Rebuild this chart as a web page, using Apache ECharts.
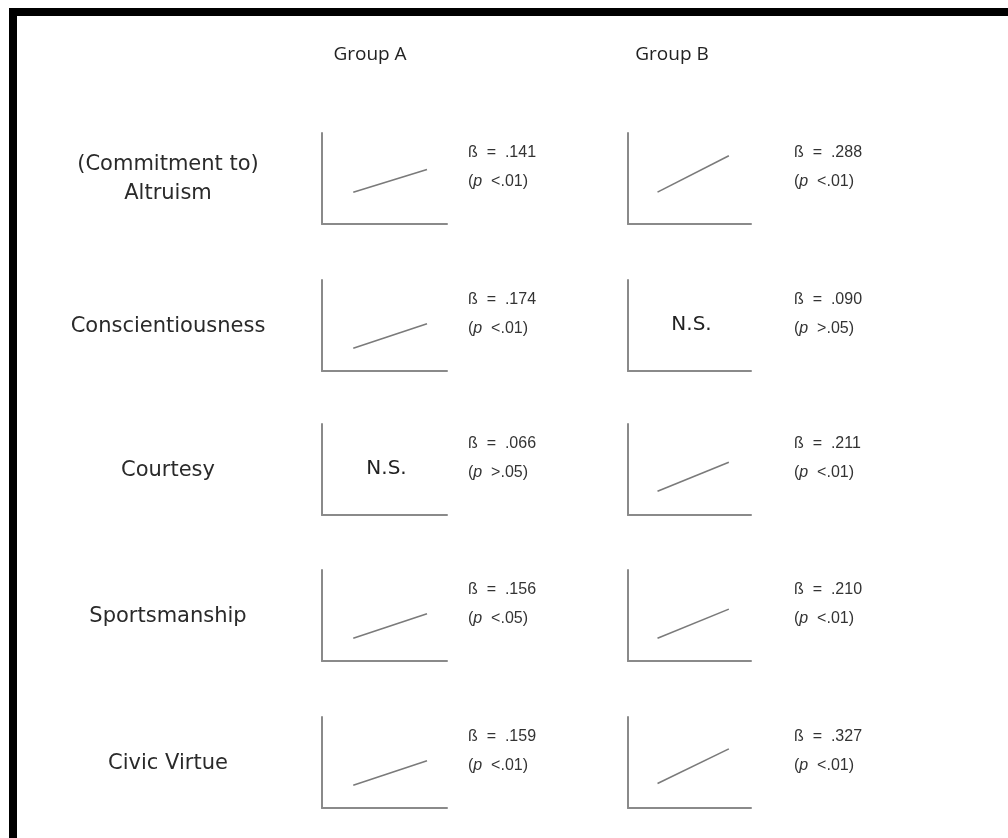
<!DOCTYPE html>
<html>
<head>
<meta charset="utf-8">
<script src="https://cdn.jsdelivr.net/npm/echarts@6/dist/echarts.min.js"></script>
<style>
  html, body { margin: 0; padding: 0; background: #fff; }
  #chart { width: 1008px; height: 838px; }
</style>
</head>
<body>
<div id="chart"></div>
<script>
// row labels
const categories = ['(Commitment to)\nAltruism', 'Conscientiousness', 'Courtesy', 'Sportsmanship', 'Civic Virtue']
const groups = ['Group A', 'Group B']

// beta and p for each group
const betaA = ['.141', '.174', '.066', '.156', '.159']
const pA = ['<.01', '<.01', '>.05', '<.05', '<.01']
const betaB = ['.288', '.090', '.211', '.210', '.327']
const pB = ['<.01', '>.05', '<.01', '<.01', '<.01']

// slope line endpoints (x from / to, y from / to), null = N.S.
const xA = [2.5, 8.4]
const xB = [2.4, 8.2]
const lineA = [[3.5, 6.0], [2.5, 5.2], null, [2.5, 5.2], [2.5, 5.2]]
const lineB = [[3.5, 7.5], null, [2.6, 5.8], [2.5, 5.7], [2.7, 6.5]]

const rowTop = [133, 280, 424, 570, 717]
const panelH = 91
const colLeft = [322, 628]
const colW = [125, 123]
const textX = [468, 794]
const titleX = [370, 672]
const grey = '#8a8a8a'
const font = '"DejaVu Sans", "Noto Sans", sans-serif'
const smallFont = '16px "Liberation Sans", Arial, sans-serif'

let myChart = echarts.init(document.getElementById('chart'))

const grid = [], xAxis = [], yAxis = [], series = [], graphic = []

const cols = [
  {beta: betaA, p: pA, line: lineA, x: xA},
  {beta: betaB, p: pB, line: lineB, x: xB}
]

categories.forEach((cat, r) => {
  // row label
  graphic.push({
    type: 'text', x: 168, y: rowTop[r] + panelH / 2 + 1,
    style: {text: cat, fill: '#2a2a2a', font: '21px ' + font, align: 'center', verticalAlign: 'middle', lineHeight: 29}
  })
  cols.forEach((c, g) => {
    const idx = grid.length
    grid.push({left: colLeft[g], top: rowTop[r], width: colW[g], height: panelH})
    const axisCommon = {
      type: 'value', min: 0, max: 10, gridIndex: idx,
      axisLine: {show: true, lineStyle: {color: grey, width: 2}},
      axisTick: {show: false}, axisLabel: {show: false}, splitLine: {show: false}
    }
    xAxis.push(Object.assign({}, axisCommon))
    yAxis.push(Object.assign({}, axisCommon))
    const seg = c.line[r]
    if (seg) {
      series.push({
        type: 'line', xAxisIndex: idx, yAxisIndex: idx, symbol: 'none', silent: true,
        lineStyle: {color: '#7a7a7a', width: 1.6},
        data: [[c.x[0], seg[0]], [c.x[1], seg[1]]]
      })
    } else {
      graphic.push({
        type: 'text', x: colLeft[g] + colW[g] / 2 + 2, y: rowTop[r] + panelH / 2 - 1,
        style: {text: 'N.S.', fill: '#222', font: '20px ' + font, align: 'center', verticalAlign: 'middle'}
      })
    }
    graphic.push({
      type: 'text', x: textX[g], y: rowTop[r] + 34,
      style: {
        text: '{n|ß  =  ' + c.beta[r] + '}\n{n|(}{i|p}{n|  ' + c.p[r] + ')}',
        verticalAlign: 'middle',
        rich: {
          n: {fill: '#333', font: smallFont, lineHeight: 29},
          i: {fill: '#333', font: 'italic ' + smallFont, lineHeight: 29}
        }
      }
    })
  })
})

groups.forEach((gname, g) => {
  graphic.push({
    type: 'text', x: titleX[g], y: 55,
    style: {text: gname, fill: '#222', font: '19px "Open Sans", sans-serif', align: 'center', verticalAlign: 'middle'}
  })
})

// thick frame around the figure
graphic.push({
  type: 'rect', left: 9, top: 8, z: 10,
  shape: {x: 0, y: 0, width: 1010, height: 840},
  style: {fill: 'none', stroke: '#000', lineWidth: 8}
})

const option = {
  backgroundColor: '#fff',
  animation: false,
  grid, xAxis, yAxis, series, graphic
}

myChart.setOption(option)
window.onresize = function () {
  myChart.resize()
}
</script>
</body>
</html>
